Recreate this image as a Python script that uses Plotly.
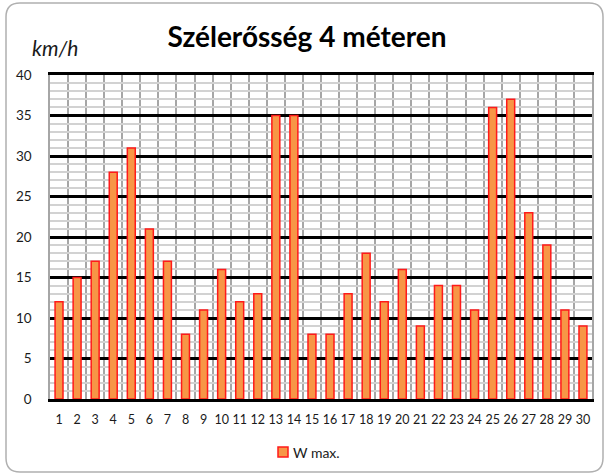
import plotly.graph_objects as go

days = list(range(1, 31))
w_max = [12, 15, 17, 28, 31, 21, 17, 8, 11, 16, 12, 13, 35, 35, 8,
         8, 13, 18, 12, 16, 9, 14, 14, 11, 36, 37, 23, 19, 11, 9]
y_ticks = [0, 5, 10, 15, 20, 25, 30, 35, 40]
title_text = "Szélerősség 4 méteren"
unit_text = "km/h"
series_name = "W max."

W, H = 608, 476
ML, MR, MT, MB = 50, 16, 75, 77
PW = W - ML - MR
PH = H - MT - MB

def px(x):
    return (x - ML) / PW

def py(y):
    return (H - MB - y) / PH

fig = go.Figure()
fig.add_trace(go.Bar(
    x=days, y=w_max, name=series_name, width=0.44, showlegend=False,
    marker=dict(color="#F79646", line=dict(color="#FF1A1A", width=1.5)),
))

# rounded chart frame
x0, x1, y0, y1, r = 6, 603, 3, 472, 14
path = (f"M {px(x0+r)},{py(y0)} L {px(x1-r)},{py(y0)} "
        f"Q {px(x1)},{py(y0)} {px(x1)},{py(y0+r)} "
        f"L {px(x1)},{py(y1-r)} Q {px(x1)},{py(y1)} {px(x1-r)},{py(y1)} "
        f"L {px(x0+r)},{py(y1)} Q {px(x0)},{py(y1)} {px(x0)},{py(y1-r)} "
        f"L {px(x0)},{py(y0+r)} Q {px(x0)},{py(y0)} {px(x0+r)},{py(y0)} Z")

shapes = [
    dict(type="path", path=path, xref="paper", yref="paper",
         line=dict(color="#b0b0b0", width=1.5), layer="below"),
    # legend key
    dict(type="rect", xref="paper", yref="paper",
         x0=px(278), x1=px(288), y0=py(447), y1=py(457),
         fillcolor="#F79646", line=dict(color="#FF1A1A", width=1.5)),
]

fig.update_layout(
    width=W, height=H,
    margin=dict(l=ML, r=MR, t=MT, b=MB),
    paper_bgcolor="white", plot_bgcolor="white",
    font=dict(family="Lato, Open Sans, sans-serif", size=13, color="#1a1a1a"),
    title=dict(text=f"<b>{title_text}</b>", x=307 / W, xanchor="center",
               y=1 - 37 / H, yanchor="middle",
               font=dict(size=28, color="#000000", family="Lato, Open Sans, sans-serif")),
    bargap=0.56,
    showlegend=False,
    xaxis=dict(
        range=[0.5, 30.5], tickmode="array", tickvals=days,
        ticktext=[str(d) for d in days],
        showgrid=False, ticks="", ticklabelstandoff=7,
        showline=True, mirror=True, linecolor="#000000", linewidth=2.5,
        zeroline=False,
        tickfont=dict(size=12.5),
        minor=dict(tickvals=[d + 0.5 for d in range(0, 31)], showgrid=True,
                   gridcolor="#a6a6a6", gridwidth=1.5, ticks=""),
    ),
    yaxis=dict(
        range=[0, 40], tickmode="array", tickvals=y_ticks,
        showgrid=True, gridcolor="#000000", gridwidth=2.5,
        zeroline=False,
        showline=True, mirror=True, linecolor="#a6a6a6", linewidth=1.5,
        ticks="", ticklabelstandoff=14, tickfont=dict(size=13.5),
        minor=dict(dtick=1, showgrid=True, gridcolor="#d2d2d2", gridwidth=1.5, ticks=""),
    ),
    shapes=shapes,
    annotations=[
        dict(text=f"<i>{unit_text}</i>", xref="paper", yref="paper",
             x=px(55), y=py(47), xanchor="center", yanchor="middle",
             showarrow=False, font=dict(size=21, color="#1a1a1a")),
        dict(text=series_name, xref="paper", yref="paper",
             x=px(291), y=py(452), xanchor="left", yanchor="middle",
             showarrow=False, font=dict(size=14, color="#1a1a1a")),
    ],
)

fig.write_html("out.html", config={"displayModeBar": False},
               post_script="document.body.style.margin='0';document.body.style.overflow='hidden';")
